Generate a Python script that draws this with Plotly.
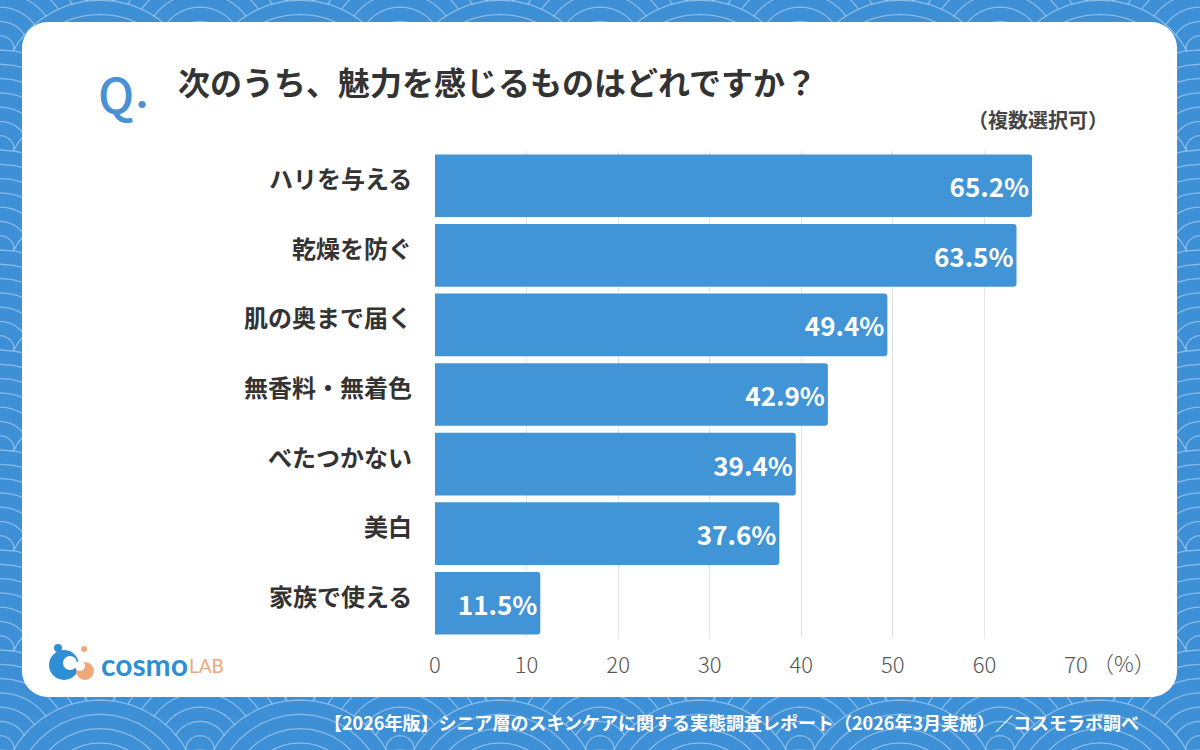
import math
import plotly.graph_objects as go

# ---------------- data ----------------
categories = ["ハリを与える", "乾燥を防ぐ", "肌の奥まで届く", "無香料・無着色",
              "べたつかない", "美白", "家族で使える"]
values = [65.2, 63.5, 49.4, 42.9, 39.4, 37.6, 11.5]
x_ticks = [0, 10, 20, 30, 40, 50, 60, 70]

title_text = "次のうち、魅力を感じるものはどれですか？"
note_text = "（複数選択可）"
unit_text = "（%）"
footer_text = "【2026年版】シニア層のスキンケアに関する実態調査レポート（2026年3月実施）／コスモラボ調べ"

# ---------------- layout geometry (pixels) ----------------
W, H = 1200, 750
PL, PR, PT, PB = 435, 1076, 151, 638   # plot area box in pixels

def px(x):
    return (x - PL) / (PR - PL)

def py(y):
    return (PB - y) / (PB - PT)

FONT = "Noto Sans CJK JP"
BG_BLUE = "#3d8fd6"
BAR_BLUE = "#4194d6"

shapes = []

# background
shapes.append(dict(type="rect", xref="paper", yref="paper",
                   x0=px(0), x1=px(W), y0=py(H), y1=py(0),
                   fillcolor=BG_BLUE, line=dict(width=0), layer="below"))

# seigaiha wave pattern (decorative)
R = 100
RINGS = 7
NPTS = 40
CARD = (22, 22, 1177, 697)

def circle_sub(cx, cy, r):
    pts = []
    for k in range(NPTS):
        a = 2 * math.pi * k / NPTS
        pts.append((px(cx + r * math.cos(a)), py(cy + r * math.sin(a))))
    s = "M%.4f,%.4f" % pts[0]
    for p in pts[1:]:
        s += "L%.4f,%.4f" % p
    return s + "Z"

row = 0
cy = -R
while cy <= H + R:
    off = (row % 2) * R
    cx = -R + off
    while cx <= W + R:
        inside = (cx - R > CARD[0] and cx + R < CARD[2] and cy - R > CARD[1] and cy + R < CARD[3])
        if not inside:
            path = ""
            for i in range(RINGS):
                r = R * (RINGS - i) / RINGS
                path += circle_sub(cx, cy, r)
            shapes.append(dict(type="path", xref="paper", yref="paper", path=path,
                               fillcolor=BG_BLUE, fillrule="nonzero",
                               line=dict(color="rgba(255,255,255,0.38)", width=1.3),
                               layer="below"))
        cx += 2 * R
    cy += R / 2
    row += 1

# white rounded card
def rounded_rect(x0, y0, x1, y1, rad, n=12):
    pts = []
    corners = [(x1 - rad, y0 + rad, -90), (x1 - rad, y1 - rad, 0),
               (x0 + rad, y1 - rad, 90), (x0 + rad, y0 + rad, 180)]
    for (cx, cy, start) in corners:
        for k in range(n + 1):
            a = math.radians(start + 90 * k / n)
            pts.append((px(cx + rad * math.cos(a)), py(cy + rad * math.sin(a))))
    s = "M%.4f,%.4f" % pts[0]
    for p in pts[1:]:
        s += "L%.4f,%.4f" % p
    return s + "Z"

shapes.append(dict(type="path", xref="paper", yref="paper",
                   path=rounded_rect(*CARD, 26),
                   fillcolor="white", line=dict(width=0), layer="below"))

# logo icon (simple shapes)
def circ(cx, cy, r, color):
    shapes.append(dict(type="circle", xref="paper", yref="paper",
                       x0=px(cx - r), x1=px(cx + r), y0=py(cy + r), y1=py(cy - r),
                       fillcolor=color, line=dict(width=0), layer="above"))

circ(64, 665, 15, "#2f8fd4")
circ(58, 648, 4, "#2f8fd4")
circ(70, 663, 7, "white")
circ(85, 671, 9, "#f2a77a")
circ(84, 649, 3, "#f2a77a")
circ(80, 666, 5, "white")

# ---------------- figure ----------------
fig = go.Figure()
fig.add_trace(go.Bar(
    x=values, y=categories, orientation="h",
    marker=dict(color=BAR_BLUE, line=dict(width=0), cornerradius=3),
    width=0.9,
    texttemplate="%{x:.1f}%", textposition="inside", insidetextanchor="end",
    textfont=dict(family=FONT, size=26, color="white", weight=700),
    constraintext="none",
    hoverinfo="skip",
))

annotations = [
    dict(text="Q", x=px(96), y=py(92), xref="paper", yref="paper",
         xanchor="left", yanchor="middle", showarrow=False,
         font=dict(family=FONT, size=48, color="#4a90d4", weight=500)),
    dict(text="●", x=px(136), y=py(104), xref="paper", yref="paper",
         xanchor="left", yanchor="middle", showarrow=False,
         font=dict(family=FONT, size=8, color="#4a90d4")),
    dict(text=title_text, x=px(176), y=py(81), xref="paper", yref="paper",
         xanchor="left", yanchor="middle", showarrow=False,
         font=dict(family=FONT, size=32, color="#333333", weight=700)),
    dict(text=note_text, x=px(1110), y=py(120), xref="paper", yref="paper",
         xanchor="right", yanchor="middle", showarrow=False,
         font=dict(family=FONT, size=20, color="#444444", weight=700)),
    dict(text=unit_text, x=px(1090), y=py(662), xref="paper", yref="paper",
         xanchor="left", yanchor="middle", showarrow=False,
         font=dict(family=FONT, size=22, color="#555555", weight=300)),
    dict(text=footer_text, x=px(1141), y=py(722), xref="paper", yref="paper",
         xanchor="right", yanchor="middle", showarrow=False,
         font=dict(family=FONT, size=18, color="white", weight=700)),
    dict(text="cosmo", x=px(99), y=py(664), xref="paper", yref="paper",
         xanchor="left", yanchor="middle", showarrow=False,
         font=dict(family="Lato", size=30, color="#2f8fd4", weight=700)),
    dict(text="LAB", x=px(187), y=py(665), xref="paper", yref="paper",
         xanchor="left", yanchor="middle", showarrow=False,
         font=dict(family="Lato", size=19, color="#f2a77a", weight=400)),
]

# category labels (placed on the category axis, slightly above bar centre)
for c in categories:
    annotations.append(dict(text=c, x=px(414), y=c, xref="paper", yref="y",
                            xanchor="right", yanchor="middle", yshift=8,
                            showarrow=False,
                            font=dict(family=FONT, size=24, color="#333333", weight=700)))

fig.update_layout(
    width=W, height=H,
    margin=dict(l=PL, r=W - PR, t=PT, b=H - PB, pad=0),
    paper_bgcolor=BG_BLUE, plot_bgcolor="rgba(0,0,0,0)",
    showlegend=False,
    bargap=0.1,
    shapes=shapes,
    annotations=annotations,
    font=dict(family=FONT),
    xaxis=dict(range=[0, 70], tickvals=x_ticks, ticktext=[str(t) for t in x_ticks],
               showgrid=True, gridcolor="#e3e3e3", gridwidth=1,
               zeroline=False, showline=False, ticks="",
               ticklabelstandoff=12,
               tickfont=dict(family=FONT, size=22, color="#555555", weight=300),
               fixedrange=True),
    yaxis=dict(type="category", categoryorder="array", categoryarray=categories,
               autorange="reversed", showgrid=False, zeroline=False, showline=False,
               ticks="", showticklabels=False,
               fixedrange=True),
)

fig.write_html("out.html")
